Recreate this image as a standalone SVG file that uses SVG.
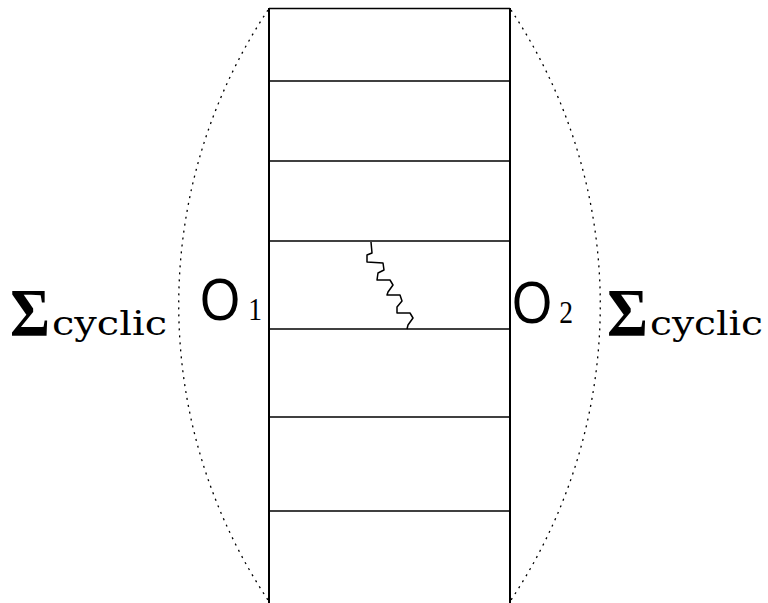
<svg xmlns="http://www.w3.org/2000/svg" width="768" height="603" viewBox="0 0 768 603">
<style>
.ln{stroke:#000;stroke-width:2;fill:none}
.rung{stroke:#000;stroke-width:1.6;fill:none}
.dot{stroke:#000;stroke-width:1.3;fill:none;stroke-dasharray:2 5}
.sig{font-family:"Liberation Serif","DejaVu Serif",serif;font-weight:bold;font-size:67px}
.cyc{font-family:"DejaVu Serif","Liberation Serif",serif;font-size:34px}
.o{font-family:"Liberation Sans","DejaVu Sans",sans-serif;font-size:60px}
.sub{font-family:"Liberation Serif","DejaVu Serif",serif;font-size:32px}
</style>
<rect width="768" height="603" fill="#fff"/>
<g id="ladder">
<line class="ln" x1="269" y1="8" x2="269" y2="603"/>
<line class="ln" x1="510" y1="8" x2="510" y2="603"/>
<line class="rung" x1="269" y1="8.5" x2="510" y2="8.5"/>
<line class="rung" x1="269" y1="81" x2="510" y2="81"/>
<line class="rung" x1="269" y1="161" x2="510" y2="161"/>
<line class="rung" x1="269" y1="241" x2="510" y2="241"/>
<line class="rung" x1="269" y1="329" x2="510" y2="329"/>
<line class="rung" x1="269" y1="417" x2="510" y2="417"/>
<line class="rung" x1="269" y1="511" x2="510" y2="511"/>
</g>
<g id="connectors">
<path class="dot" d="M268,10 A532,532 0 0 0 268,600"/>
<path class="dot" d="M511,10 A532,532 0 0 1 511,600"/>
<path id="wavy" fill="none" stroke="#000" stroke-width="1.5" stroke-linejoin="round" d="M371,242 L372,253 L367,255 L367,262 L383,263 L384,270 L378,273 L377,280 L390,280 L393,285 L388,292 L387,295 L400,295 L402,301 L397,307 L397,313 L410,313 L413,318 L408,325 L407,329"/>
</g>
<g id="label-left">
<text class="sig" x="10" y="335" textLength="40" lengthAdjust="spacingAndGlyphs">Σ</text>
<text class="cyc" x="52" y="335" textLength="115" lengthAdjust="spacingAndGlyphs">cyclic</text>
</g>
<g id="label-O1">
<text class="o" transform="translate(200,320) scale(0.86,1)">O<tspan class="sub" x="56">1</tspan></text>
</g>
<g id="label-O2">
<text class="o" transform="translate(512,323) scale(0.86,1)">O<tspan class="sub" x="55">2</tspan></text>
</g>
<g id="label-right">
<text class="sig" x="607" y="335" textLength="41" lengthAdjust="spacingAndGlyphs">Σ</text>
<text class="cyc" x="650" y="335" textLength="113" lengthAdjust="spacingAndGlyphs">cyclic</text>
</g>
</svg>
